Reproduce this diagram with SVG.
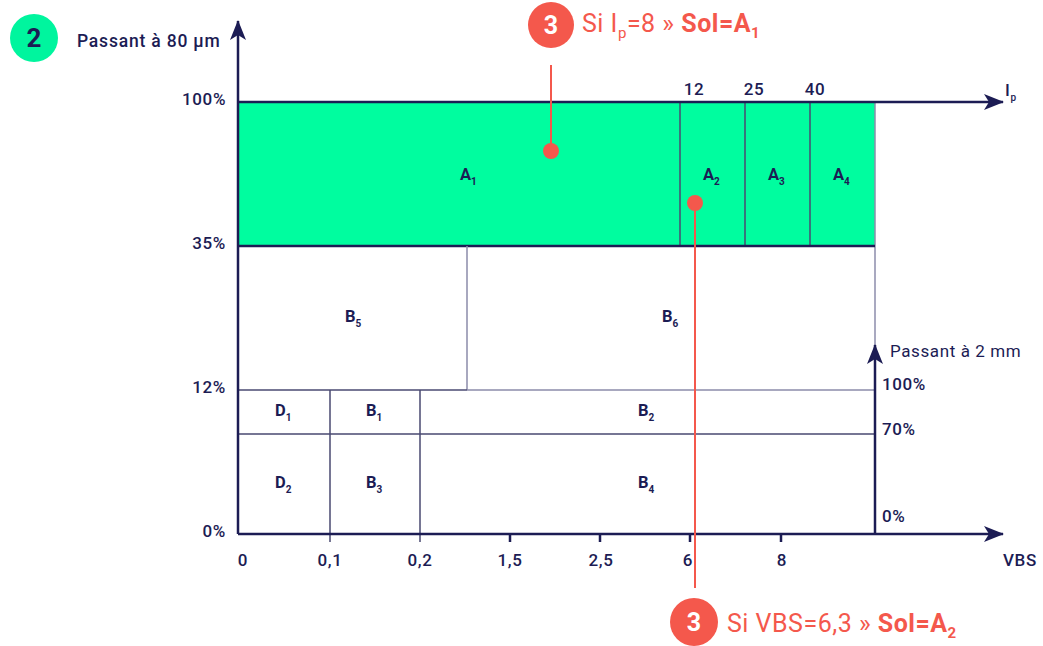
<svg xmlns="http://www.w3.org/2000/svg" width="1043" height="646" viewBox="0 0 1043 646">
<style>
.t{font-family:Roboto,"Liberation Sans",sans-serif;fill:#1c1c54}
.ax{font-size:17px;letter-spacing:0.6px;font-weight:500}
.lbl{font-size:16.5px;font-weight:700}
.sub{font-size:10px}
.red{font-family:Roboto,"Liberation Sans",sans-serif;fill:#f4584c;font-size:25px;letter-spacing:0.5px}
.axis{stroke:#1c1c54;stroke-width:2.5;fill:none}
.thin{stroke:#4a4a72;stroke-width:1.5;fill:none}
.light{stroke:#8c8cab;stroke-width:1.5;fill:none}
.cl{stroke:#f4584c;stroke-width:2;fill:none}
</style>
<defs>
<marker id="arr" viewBox="0 0 20 16" refX="19" refY="8" markerWidth="20" markerHeight="16" markerUnits="userSpaceOnUse" orient="auto">
<path d="M0,0 L20,8 L0,16 L5,8 Z" fill="#1c1c54"/>
</marker>
</defs>

<g id="badge2">
<circle cx="34" cy="38" r="24" fill="#00f59e"/>
<text x="34" y="47" text-anchor="middle" class="t" font-size="26" font-weight="700">2</text>
</g>
<text x="77" y="47" class="t" font-size="17.5" font-weight="500" letter-spacing="0.8">Passant à 80 µm</text>

<g id="zoneA">
<rect x="238" y="102" width="637" height="144" fill="#00fd9f"/>
<path class="thin" d="M680,102 V246 M745,102 V246 M810,102 V246" stroke="#1c1c54"/>
<path class="light" d="M875,102 V345" stroke="#999"/>
<path class="axis" d="M238,246 H875" stroke-width="2"/>
</g>

<g id="zoneB">
<path class="light" d="M467,246 V390 M467,390 H875"/>
<path class="thin" d="M238,390 H467" stroke="#555566"/>
<path class="thin" d="M238,434 H875 M330,390 V542 M420,390 V542" stroke="#2e2e5e"/>
</g>

<g id="connectors">
<path class="axis" d="M238,534 V21" marker-end="url(#arr)"/>
<path class="axis" d="M238,102 H1003" marker-end="url(#arr)"/>
<path class="axis" d="M238,534 H1003" marker-end="url(#arr)"/>
<path class="axis" d="M875,534 V345" marker-end="url(#arr)"/>
<path class="axis" d="M510,534 V542 M600,534 V542 M690,534 V542 M781,534 V542" stroke-width="2"/>
</g>

<g class="t ax">
<text x="226" y="105" text-anchor="end">100%</text>
<text x="226" y="249" text-anchor="end">35%</text>
<text x="226" y="393" text-anchor="end">12%</text>
<text x="226" y="537" text-anchor="end">0%</text>
<text x="694" y="95" text-anchor="middle">12</text>
<text x="754" y="95" text-anchor="middle">25</text>
<text x="815" y="95" text-anchor="middle">40</text>
<text x="243" y="566" text-anchor="middle">0</text>
<text x="330" y="566" text-anchor="middle">0,1</text>
<text x="420" y="566" text-anchor="middle">0,2</text>
<text x="510" y="566" text-anchor="middle">1,5</text>
<text x="601" y="566" text-anchor="middle">2,5</text>
<text x="688" y="566" text-anchor="middle">6</text>
<text x="782" y="566" text-anchor="middle">8</text>
<text x="1003" y="566">VBS</text>
<text x="890" y="357" font-weight="400">Passant à 2 mm</text>
<text x="882" y="390">100%</text>
<text x="882" y="435">70%</text>
<text x="882" y="522">0%</text>
<text x="1005" y="96">I<tspan class="sub" dy="5">p</tspan></text>
</g>

<g class="t lbl">
<text id="A1" x="460" y="180">A<tspan class="sub" dy="5">1</tspan></text>
<text id="A2" x="703" y="180">A<tspan class="sub" dy="5">2</tspan></text>
<text id="A3" x="768" y="180">A<tspan class="sub" dy="5">3</tspan></text>
<text id="A4" x="833" y="180">A<tspan class="sub" dy="5">4</tspan></text>
<text id="B5" x="345" y="322">B<tspan class="sub" dy="5">5</tspan></text>
<text id="B6" x="662" y="322">B<tspan class="sub" dy="5">6</tspan></text>
<text id="D1" x="275" y="416">D<tspan class="sub" dy="5">1</tspan></text>
<text id="B1" x="366" y="416">B<tspan class="sub" dy="5">1</tspan></text>
<text id="B2" x="638" y="416">B<tspan class="sub" dy="5">2</tspan></text>
<text id="D2" x="275" y="488">D<tspan class="sub" dy="5">2</tspan></text>
<text id="B3" x="366" y="488">B<tspan class="sub" dy="5">3</tspan></text>
<text id="B4" x="638" y="488">B<tspan class="sub" dy="5">4</tspan></text>
</g>

<g id="callout1">
<path class="cl" d="M551,65 V150"/>
<circle cx="551" cy="151" r="8" fill="#f4584c"/>
<circle cx="551" cy="25" r="23" fill="#f4584c"/>
<text x="551" y="34" text-anchor="middle" fill="#fff" font-family="Roboto,'Liberation Sans',sans-serif" font-size="25" font-weight="700">3</text>
<text x="582" y="32" class="red">Si I<tspan font-size="15" dy="6">p</tspan><tspan dy="-6">=8 » </tspan><tspan font-weight="700">Sol=A</tspan><tspan font-size="15" font-weight="700" dy="6">1</tspan></text>
</g>

<g id="callout2">
<path class="cl" d="M695,203 V588"/>
<circle cx="695" cy="203" r="8" fill="#f4584c"/>
<circle cx="694" cy="622" r="24" fill="#f4584c"/>
<text x="694" y="631" text-anchor="middle" fill="#fff" font-family="Roboto,'Liberation Sans',sans-serif" font-size="25" font-weight="700">3</text>
<text x="727" y="632" class="red">Si VBS=6,3 » <tspan font-weight="700">Sol=A</tspan><tspan font-size="15" font-weight="700" dy="6">2</tspan></text>
</g>
</svg>
